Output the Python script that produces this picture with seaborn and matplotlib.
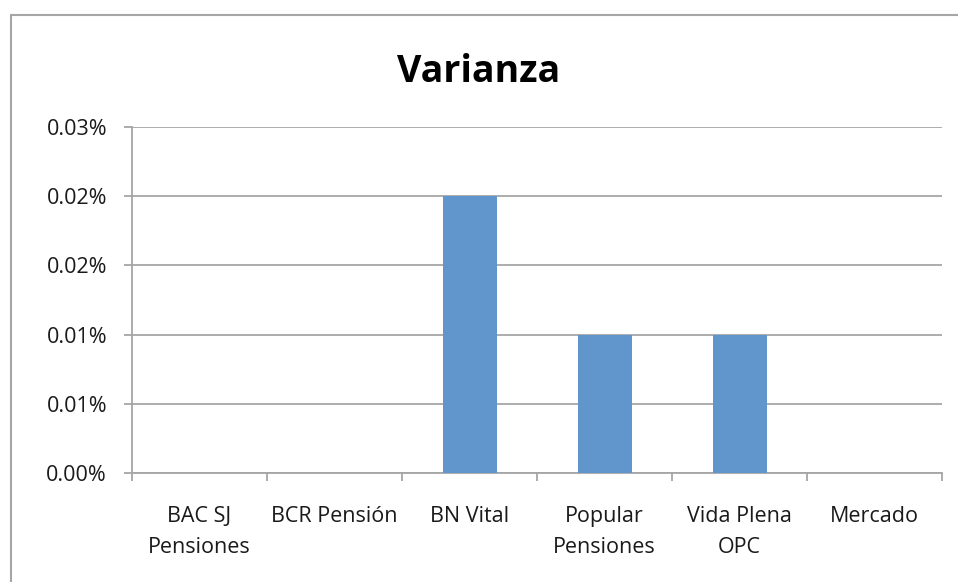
import matplotlib
matplotlib.use("Agg")
import matplotlib.pyplot as plt
import seaborn as sns
import pandas as pd
from matplotlib.patches import Rectangle

# -------------------- datos --------------------
categorias = ["BAC SJ\nPensiones", "BCR Pensión", "BN Vital",
              "Popular\nPensiones", "Vida Plena\nOPC", "Mercado"]
varianza = [0.0, 0.0, 0.0002, 0.0001, 0.0001, 0.0]
y_ticks = [0.0, 0.00005, 0.0001, 0.00015, 0.0002, 0.00025]
y_labels = ["0.00%", "0.01%", "0.01%", "0.02%", "0.02%", "0.03%"]

sns.set_theme(style="white")
plt.rcParams["font.family"] = ["Open Sans", "DejaVu Sans"]

GRIS = "#A6A6A6"
FS = 15.5

fig = plt.figure(figsize=(9.58, 5.82), dpi=100)
ax = fig.add_axes([0.1378, 0.1873, 0.8455, 0.5945])

df = pd.DataFrame({"cat": categorias, "val": varianza})
sns.barplot(data=df, x="cat", y="val", color="#6096CB", width=0.4,
            saturation=1, linewidth=0, ax=ax, zorder=3)

ax.set_xlim(-0.5, len(categorias) - 0.5)
ax.set_ylim(0, y_ticks[-1])
ax.set_yticks(y_ticks)
ax.set_yticklabels(y_labels, fontsize=FS, color="#1a1a1a")
ax.yaxis.grid(True, color=GRIS, linewidth=1.3, zorder=0)

# ticks del eje x entre categorias, etiquetas centradas
ax.set_xticks([i - 0.5 for i in range(len(categorias) + 1)])
ax.set_xticklabels([])
ax.set_xticks(range(len(categorias)), minor=True)
ax.set_xticklabels(categorias, minor=True, fontsize=FS, color="#1a1a1a",
                   linespacing=1.6)
ax.tick_params(axis="x", which="minor", length=0, pad=24)
ax.tick_params(axis="x", which="major", length=6, width=1.3, color=GRIS, direction="out", bottom=True)
ax.tick_params(axis="y", length=6, width=1.3, color=GRIS, direction="out", left=True, pad=12)

ax.set_xlabel("")
ax.set_ylabel("")
for s in ["top", "right"]:
    ax.spines[s].set_visible(False)
for s in ["left", "bottom"]:
    ax.spines[s].set_color(GRIS)
    ax.spines[s].set_linewidth(1.3)

fig.text(0.5, 0.877, "Varianza", ha="center", va="center",
         fontsize=27, fontweight="bold", color="#000000")

# borde del grafico
fig.patches.append(Rectangle((0.0115, -0.05), 1.2, 0.9742 + 0.05,
                             transform=fig.transFigure, fill=False,
                             edgecolor=GRIS, linewidth=1.5))

fig.savefig("out.png", dpi=100, facecolor="white")
